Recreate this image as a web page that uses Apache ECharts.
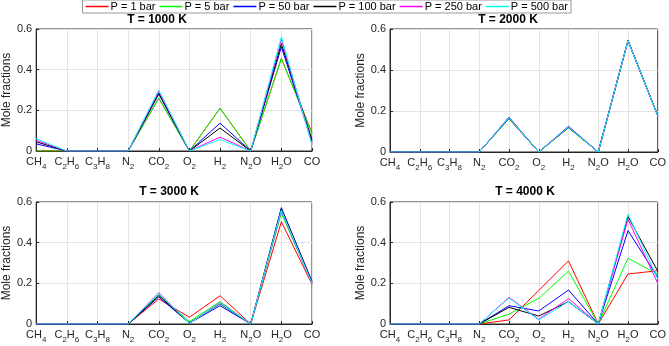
<!DOCTYPE html>
<html>
<head>
<meta charset="utf-8">
<script src="https://cdn.jsdelivr.net/npm/echarts@6/dist/echarts.min.js"></script>
<style>
	html, body { margin: 0; padding: 0; background: #fff; }
	#main { width: 669px; height: 346px; }
</style>
</head>
<body>
<div id="main"></div>
<script>
	var species = ['CH4', 'C2H6', 'C3H8', 'N2', 'CO2', 'O2', 'H2', 'N2O', 'H2O', 'CO'];
	var pressures = ['P = 1 bar', 'P = 5 bar', 'P = 50 bar', 'P = 100 bar', 'P = 250 bar', 'P = 500 bar'];
	var colors = ['#ff0000', '#00ff00', '#0000ff', '#000000', '#ff00ff', '#00ffff'];
	var temps = ['T = 1000 K', 'T = 2000 K', 'T = 3000 K', 'T = 4000 K'];
	var yTicks = [0, 0.2, 0.4, 0.6];

	// mole fractions per species, T = 1000 K
	var t1000_p1 = [0, 0, 0, 0, 0.26, 0, 0.21, 0, 0.455, 0.09];
	var t1000_p5 = [0, 0, 0, 0, 0.26, 0, 0.21, 0, 0.455, 0.085];
	var t1000_p50 = [0.035, 0, 0, 0, 0.28, 0, 0.137, 0, 0.512, 0.045];
	var t1000_p100 = [0.045, 0, 0, 0, 0.285, 0, 0.113, 0, 0.528, 0.055];
	var t1000_p250 = [0.053, 0, 0, 0, 0.295, 0, 0.068, 0, 0.55, 0.035];
	var t1000_p500 = [0.06, 0, 0, 0, 0.3, 0, 0.056, 0, 0.562, 0.028];
	// T = 2000 K
	var t2000_p1 = [0, 0, 0, 0, 0.163, 0, 0.118, 0, 0.545, 0.178];
	var t2000_p5 = [0, 0, 0, 0, 0.163, 0, 0.118, 0, 0.545, 0.178];
	var t2000_p50 = [0, 0, 0, 0, 0.17, 0, 0.125, 0, 0.543, 0.176];
	var t2000_p100 = [0, 0, 0, 0, 0.165, 0, 0.12, 0, 0.543, 0.177];
	var t2000_p250 = [0, 0, 0, 0, 0.168, 0, 0.122, 0, 0.543, 0.176];
	var t2000_p500 = [0, 0, 0, 0, 0.167, 0, 0.121, 0, 0.543, 0.176];
	// T = 3000 K
	var t3000_p1 = [0, 0, 0, 0, 0.123, 0.033, 0.139, 0, 0.503, 0.195];
	var t3000_p5 = [0, 0, 0, 0, 0.143, 0.012, 0.11, 0, 0.545, 0.2];
	var t3000_p50 = [0, 0, 0, 0, 0.133, 0.004, 0.09, 0, 0.572, 0.21];
	var t3000_p100 = [0, 0, 0, 0, 0.14, 0.005, 0.1, 0, 0.566, 0.205];
	var t3000_p250 = [0, 0, 0, 0, 0.154, 0.003, 0.105, 0, 0.555, 0.2];
	var t3000_p500 = [0, 0, 0, 0, 0.15, 0.003, 0.103, 0, 0.56, 0.2];
	// T = 4000 K
	var t4000_p1 = [0, 0, 0, 0, 0.02, 0.165, 0.31, 0, 0.246, 0.262];
	var t4000_p5 = [0, 0, 0, 0, 0.049, 0.126, 0.26, 0, 0.323, 0.246];
	var t4000_p50 = [0, 0, 0, 0, 0.09, 0.064, 0.167, 0, 0.459, 0.23];
	var t4000_p100 = [0, 0, 0, 0, 0.082, 0.039, 0.11, 0, 0.528, 0.26];
	var t4000_p250 = [0, 0, 0, 0, 0.131, 0.023, 0.125, 0, 0.515, 0.2];
	var t4000_p500 = [0, 0, 0, 0, 0.128, 0.02, 0.11, 0, 0.541, 0.22];

	var allData = [
		[t1000_p1, t1000_p5, t1000_p50, t1000_p100, t1000_p250, t1000_p500],
		[t2000_p1, t2000_p5, t2000_p50, t2000_p100, t2000_p250, t2000_p500],
		[t3000_p1, t3000_p5, t3000_p50, t3000_p100, t3000_p250, t3000_p500],
		[t4000_p1, t4000_p5, t4000_p50, t4000_p100, t4000_p250, t4000_p500]
	];

	// subplot boxes
	var grids = [
		{ left: 34, top: 29, width: 278, height: 122 },
		{ left: 390, top: 29, width: 270, height: 123 },
		{ left: 34, top: 202, width: 278, height: 122 },
		{ left: 390, top: 202, width: 270, height: 122 }
	];
	var titlePos = [[157, 14], [508, 14], [169, 186], [525, 186]];

	var txt = '#262626';
	var font = 'Liberation Sans, Arial, sans-serif';

	function chem(v) { // subscript digits
		return v.replace(/([A-Z][a-z]?)(\d*)/g, function(m, el, n) {
			return '{n|' + el + '}' + (n ? '{s|' + n + '}' : '');
		});
	}

	var option = {
		animation: false,
		backgroundColor: '#fff',
		color: colors,
		title: temps.map(function(t, i) {
			return {
				text: t,
				left: titlePos[i][0],
				top: titlePos[i][1],
				textAlign: 'center',
				padding: 0,
				textStyle: { fontSize: 12, fontWeight: 'bold', color: '#000', fontFamily: font }
			};
		}),
		legend: {
			data: pressures,
			right: 98,
			top: 0,
			padding: [1, 3],
			itemGap: 4,
			icon: 'rect',
			itemWidth: 23,
			itemHeight: 1.5,
			borderColor: '#9a9a9a',
			borderWidth: 1,
			backgroundColor: '#fff',
			textStyle: { fontSize: 11, color: '#000', fontFamily: font, padding: [0, 0, 0, -3] }
		},
		grid: grids.map(function(g) {
			return Object.assign({ show: true, borderColor: txt, borderWidth: 1, backgroundColor: 'transparent' }, g);
		}),
		xAxis: grids.map(function(g, i) {
			return {
				type: 'category',
				gridIndex: i,
				data: species,
				boundaryGap: false,
				axisLine: { lineStyle: { color: txt, width: 1 } },
				axisTick: { inside: true, length: 3, lineStyle: { color: txt } },
				splitLine: { show: true, lineStyle: { color: '#e3e3e3', width: 1 } },
				axisLabel: {
					interval: 0,
					hideOverlap: false,
					margin: 5,
					formatter: chem,
					rich: {
						n: { fontSize: 11, color: txt, fontFamily: font, lineHeight: 12, verticalAlign: 'top' },
						s: { fontSize: 8, color: txt, fontFamily: font, lineHeight: 15, verticalAlign: 'bottom' }
					}
				}
			};
		}),
		yAxis: grids.map(function(g, i) {
			return {
				type: 'value',
				gridIndex: i,
				min: yTicks[0],
				max: yTicks[yTicks.length - 1],
				interval: 0.2,
				name: 'Mole fractions',
				nameLocation: 'middle',
				nameGap: 22,
				nameTextStyle: { fontSize: 12, color: txt, fontFamily: font },
				axisLine: { show: true, lineStyle: { color: txt, width: 1 } },
				axisTick: { show: true, inside: true, length: 3, lineStyle: { color: txt } },
				splitLine: { show: true, lineStyle: { color: '#e3e3e3', width: 1 } },
				axisLabel: { fontSize: 11, color: txt, fontFamily: font, margin: 4 }
			};
		}),
		series: []
	};

	allData.forEach(function(set, i) {
		set.forEach(function(vals, j) {
			option.series.push({
				name: pressures[j],
				type: 'line',
				xAxisIndex: i,
				yAxisIndex: i,
				data: vals,
				symbol: 'none',
				lineStyle: { width: 1, color: colors[j] },
				itemStyle: { color: colors[j] }
			});
		});
	});

	var myChart = echarts.init(document.getElementById('main'));
	myChart.setOption(option);
</script>
</body>
</html>
